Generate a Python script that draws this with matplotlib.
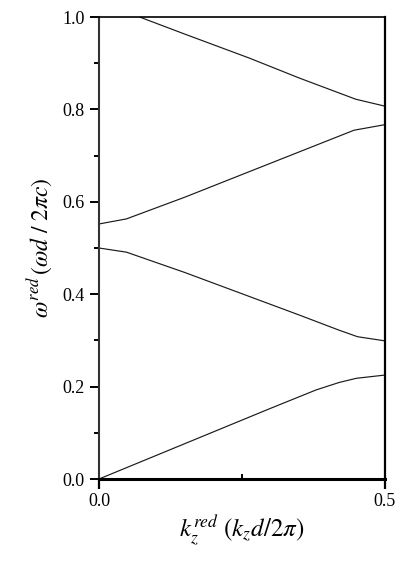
import matplotlib
matplotlib.use('Agg')
import matplotlib.pyplot as plt
from matplotlib.ticker import MultipleLocator

plt.rcParams['font.family'] = ['Liberation Serif', 'DejaVu Serif']
plt.rcParams['mathtext.fontset'] = 'stix'

# band data (k_z reduced, omega reduced)
k1 = [0.0, 0.1, 0.2, 0.3, 0.38, 0.42, 0.45, 0.5]
w1 = [0.0, 0.051, 0.102, 0.153, 0.193, 0.209, 0.218, 0.225]

k2 = [0.0, 0.048, 0.15, 0.25, 0.35, 0.42, 0.452, 0.5]
w2 = [0.5, 0.491, 0.447, 0.401, 0.355, 0.322, 0.308, 0.299]

k3 = [0.0, 0.048, 0.15, 0.25, 0.35, 0.446, 0.5]
w3 = [0.552, 0.563, 0.610, 0.659, 0.708, 0.755, 0.767]

k4 = [0.071, 0.15, 0.263, 0.35, 0.449, 0.5]
w4 = [1.0, 0.963, 0.911, 0.868, 0.822, 0.807]

bands = [(k1, w1), (k2, w2), (k3, w3), (k4, w4)]

fig = plt.figure(figsize=(4.07, 5.65), dpi=100)
ax = fig.add_axes([0.2432, 0.1522, 0.7027, 0.8177])

for k, w in bands:
    ax.plot(k, w, color='#1a1a1a', lw=0.85)

ax.set_xlim(0, 0.5)
ax.set_ylim(0, 1.0)

ax.xaxis.set_major_locator(MultipleLocator(0.5))
ax.xaxis.set_minor_locator(MultipleLocator(0.25))
ax.yaxis.set_major_locator(MultipleLocator(0.2))
ax.yaxis.set_minor_locator(MultipleLocator(0.1))
ax.xaxis.set_major_formatter('{x:.1f}')
ax.yaxis.set_major_formatter('{x:.1f}')

ax.tick_params(axis='y', which='major', direction='out', length=6.5, width=1.4,
               labelsize=13, pad=4, right=False)
ax.tick_params(axis='y', which='minor', direction='out', length=3.5, width=1.4, right=False)
ax.tick_params(axis='x', which='major', direction='out', length=7, width=1.6,
               labelsize=13, pad=3, top=False)
ax.tick_params(axis='x', which='minor', direction='in', length=3.5, width=1.4, top=False)

ax.spines['left'].set_linewidth(1.5)
ax.spines['left'].set_color('#333333')
ax.spines['bottom'].set_linewidth(2.2)
ax.spines['right'].set_linewidth(1.6)
ax.spines['top'].set_linewidth(1.2)

ax.set_ylabel(r'$\omega^{red}\,(\omega d\ /\ 2\pi c)$', fontsize=17, labelpad=5)
ax.set_xlabel(r'$k_z^{red}\ (k_z d/2\pi)$', fontsize=18, labelpad=3)

fig.savefig('out.png', dpi=100)
